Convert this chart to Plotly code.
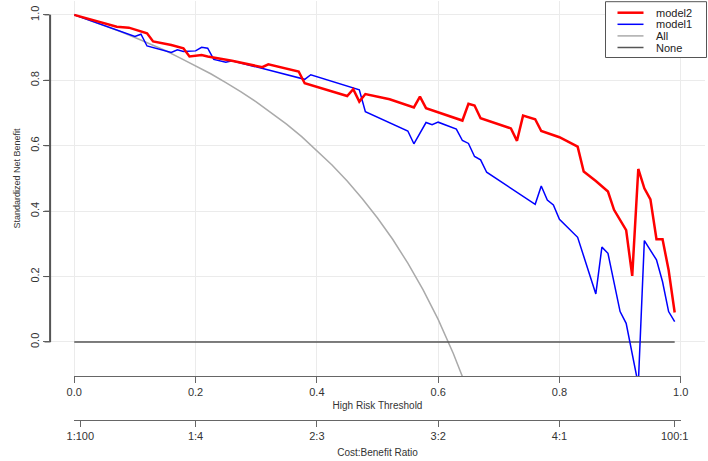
import plotly.graph_objects as go

# ---------------- data ----------------
thr_model2 = [0.00, 0.07, 0.09, 0.12, 0.13, 0.16, 0.18, 0.19, 0.21, 0.22, 0.26, 0.31, 0.32,
              0.37, 0.38, 0.45, 0.46, 0.47, 0.48, 0.52, 0.56, 0.57, 0.58, 0.64, 0.65, 0.66,
              0.67, 0.72, 0.73, 0.74, 0.76, 0.77, 0.80, 0.83, 0.84, 0.86, 0.88, 0.89, 0.91,
              0.92, 0.93, 0.94, 0.95, 0.96, 0.97, 0.98, 0.99]
snb_model2 = [1.000, 0.964, 0.961, 0.944, 0.919, 0.908, 0.898, 0.873, 0.877, 0.873, 0.860, 0.840, 0.849,
              0.827, 0.791, 0.752, 0.773, 0.735, 0.758, 0.742, 0.717, 0.750, 0.715, 0.677, 0.728, 0.723,
              0.684, 0.653, 0.615, 0.692, 0.681, 0.645, 0.626, 0.597, 0.521, 0.492, 0.460, 0.404, 0.342,
              0.202, 0.529, 0.470, 0.436, 0.314, 0.314, 0.220, 0.090]

thr_model1 = [0.00, 0.10, 0.11, 0.12, 0.16, 0.17, 0.18, 0.20, 0.21, 0.22, 0.23, 0.25, 0.26,
              0.38, 0.39, 0.46, 0.47, 0.48, 0.55, 0.56, 0.58, 0.59, 0.60, 0.63, 0.64, 0.65,
              0.66, 0.67, 0.68, 0.76, 0.77, 0.78, 0.79, 0.80, 0.83, 0.86, 0.87, 0.88, 0.90,
              0.91, 0.93, 0.94, 0.96, 0.97, 0.98, 0.99]
snb_model1 = [1.000, 0.934, 0.941, 0.905, 0.885, 0.893, 0.888, 0.890, 0.901, 0.898, 0.864, 0.855, 0.860,
              0.803, 0.817, 0.776, 0.771, 0.704, 0.645, 0.606, 0.671, 0.664, 0.672, 0.651, 0.616, 0.607,
              0.567, 0.557, 0.519, 0.421, 0.477, 0.434, 0.419, 0.375, 0.320, 0.147, 0.290, 0.271, 0.093,
              0.057, -0.130, 0.310, 0.251, 0.184, 0.093, 0.062]

thr_all = [0.000, 0.025, 0.050, 0.075, 0.100, 0.125, 0.150, 0.175, 0.200, 0.225, 0.250, 0.275,
           0.300, 0.325, 0.350, 0.375, 0.400, 0.425, 0.450, 0.475, 0.500, 0.525, 0.550, 0.575,
           0.600, 0.625, 0.650]
snb_all = [1.000, 0.984, 0.967, 0.950, 0.931, 0.911, 0.891, 0.868, 0.845, 0.820, 0.793, 0.765,
           0.734, 0.701, 0.666, 0.628, 0.586, 0.541, 0.492, 0.438, 0.379, 0.314, 0.241, 0.160,
           0.069, -0.035, -0.153]

thr_none = [0.00, 0.99]
snb_none = [0.0, 0.0]

x_tickvals = [0.0, 0.2, 0.4, 0.6, 0.8, 1.0]
x_ticktext = ["0.0", "0.2", "0.4", "0.6", "0.8", "1.0"]
cb_tickvals = [0.01, 0.2, 0.4, 0.6, 0.8, 0.99]
cb_ticktext = ["1:100", "1:4", "2:3", "3:2", "4:1", "100:1"]
y_tickvals = [0.0, 0.2, 0.4, 0.6, 0.8, 1.0]
y_ticktext = ["0.0", "0.2", "0.4", "0.6", "0.8", "1.0"]

legend_names = ["model2", "model1", "All", "None"]
legend_colors = ["#FF0000", "#0000FF", "#AAAAAA", "#555555"]
legend_widths = [2.5, 1.5, 1.5, 1.5]

# ---------------- figure ----------------
FONT = "Liberation Sans, Arial, sans-serif"
AXC = "#666666"
TXT = "#333333"
GRID = "#EBEBEB"

fig = go.Figure()
fig.add_trace(go.Scatter(x=thr_all, y=snb_all, mode="lines", name="All",
                         line=dict(color="#AAAAAA", width=1.5), showlegend=False))
fig.add_trace(go.Scatter(x=thr_none, y=snb_none, mode="lines", name="None",
                         line=dict(color="#555555", width=1.5), showlegend=False))
fig.add_trace(go.Scatter(x=thr_model1, y=snb_model1, mode="lines", name="model1",
                         line=dict(color="#0000FF", width=1.5), showlegend=False))
fig.add_trace(go.Scatter(x=thr_model2, y=snb_model2, mode="lines", name="model2",
                         line=dict(color="#FF0000", width=2.5), showlegend=False))

# invisible helper traces (on blank partner axes) so that the R-style axes are drawn
for xa, ya in [("x2", "y3"), ("x3", "y3"), ("x4", "y2")]:
    fig.add_trace(go.Scatter(x=[0.5], y=[0.5], xaxis=xa, yaxis=ya, mode="markers",
                             marker=dict(opacity=0, size=1), hoverinfo="skip",
                             showlegend=False))

W, H = 708, 461
ML, MR, MT, MB = 50, 3, 1, 10
PW, PH = W - ML - MR, H - MT - MB


def px_x(px):
    return (px - ML) / PW


def px_y(py):
    return (H - MB - py) / PH


y_dom0 = px_y(376)
xr = [-0.04, 1.04]
yr = [-0.104, 1.0425]
x_in0 = (0 - xr[0]) / (xr[1] - xr[0])
x_in1 = (1 - xr[0]) / (xr[1] - xr[0])


def yval_to_paper(v):
    return y_dom0 + (1 - y_dom0) * (v - yr[0]) / (yr[1] - yr[0])


y_in0 = yval_to_paper(y_tickvals[0])
y_in1 = yval_to_paper(y_tickvals[-1])

blank = dict(visible=True, showgrid=False, zeroline=False, showline=False, ticks="",
             showticklabels=False, automargin=False)

fig.update_layout(
    width=W, height=H,
    margin=dict(l=ML, r=MR, t=MT, b=MB, autoexpand=False),
    plot_bgcolor="rgba(0,0,0,0)", paper_bgcolor="white",
    showlegend=False,
    font=dict(family=FONT, size=11, color=TXT),
    xaxis=dict(domain=[0, 1], range=xr, tickvals=x_tickvals, showticklabels=False,
               ticks="", showline=False, zeroline=False, showgrid=True,
               gridcolor=GRID, gridwidth=1, automargin=False),
    yaxis=dict(domain=[y_dom0, 1], range=yr, tickvals=y_tickvals, showticklabels=False,
               ticks="", showline=False, zeroline=False, showgrid=True,
               gridcolor=GRID, gridwidth=1, automargin=False),
    xaxis2=dict(domain=[x_in0, x_in1], range=[0, 1], anchor="free", position=y_dom0,
                tickvals=x_tickvals, ticktext=x_ticktext, ticks="outside", ticklen=6,
                tickcolor=AXC, showline=True, linecolor=AXC, linewidth=1, automargin=False,
                showgrid=False, zeroline=False, tickfont=dict(size=11, color=TXT),
                title=dict(text="High Risk Threshold", font=dict(size=10, color=TXT), standoff=4)),
    xaxis3=dict(domain=[x_in0, x_in1], range=[0, 1], anchor="free", position=px_y(420),
                tickvals=cb_tickvals, ticktext=cb_ticktext, ticks="outside", ticklen=6,
                tickcolor=AXC, showline=True, linecolor=AXC, linewidth=1, automargin=False,
                showgrid=False, zeroline=False, tickfont=dict(size=11, color=TXT),
                title=dict(text="Cost:Benefit Ratio", font=dict(size=10, color=TXT), standoff=7)),
    yaxis2=dict(domain=[y_in0, y_in1], range=[0, 1], anchor="x4", side="left",
                tickvals=y_tickvals, ticktext=y_ticktext, tickangle=-90, ticks="outside",
                ticklen=6, tickcolor=AXC, showline=True, linecolor=AXC, linewidth=1,
                automargin=False, showgrid=False, zeroline=False,
                tickfont=dict(size=11, color=TXT),
                title=dict(text="Standardized Net Benefit", font=dict(size=9, color=TXT), standoff=6)),
    yaxis3=dict(domain=[0, 1], range=[0, 1], anchor="x2", **blank),
    xaxis4=dict(domain=[0, 1], range=[0, 1], anchor="y2", **blank),
)

# ---------------- y axis line + tick marks (R style) ----------------
xa0 = 0.5 / PW
shapes = [dict(type="line", xref="paper", yref="paper", x0=xa0, x1=xa0, y0=y_in0, y1=y_in1,
               line=dict(color="#555555", width=1.2), layer="above")]
for v in y_tickvals:
    shapes.append(dict(type="line", xref="paper", yref="paper", x0=-5.5 / PW, x1=xa0,
                       y0=yval_to_paper(v), y1=yval_to_paper(v),
                       line=dict(color="#555555", width=1), layer="above"))

# ---------------- manual R-style legend ----------------
shapes.append(dict(type="rect", xref="paper", yref="paper",
                   x0=px_x(605.5), x1=px_x(706.5), y0=px_y(57.5), y1=px_y(1.7),
                   line=dict(color="#555555", width=1), fillcolor="white", layer="above"))
annotations = []
rows = [12.7, 24.3, 35.9, 47.5]
for name, col, lw, ry in zip(legend_names, legend_colors, legend_widths, rows):
    shapes.append(dict(type="line", xref="paper", yref="paper",
                       x0=px_x(617.5), x1=px_x(643.5), y0=px_y(ry), y1=px_y(ry),
                       line=dict(color=col, width=lw), layer="above"))
    annotations.append(dict(text=name, xref="paper", yref="paper", x=px_x(654.5), y=px_y(ry),
                            xanchor="left", yanchor="middle", showarrow=False, borderpad=0,
                            font=dict(size=11, color="#222222", family=FONT)))
fig.update_layout(shapes=shapes, annotations=annotations)

fig.write_html("out.html")
